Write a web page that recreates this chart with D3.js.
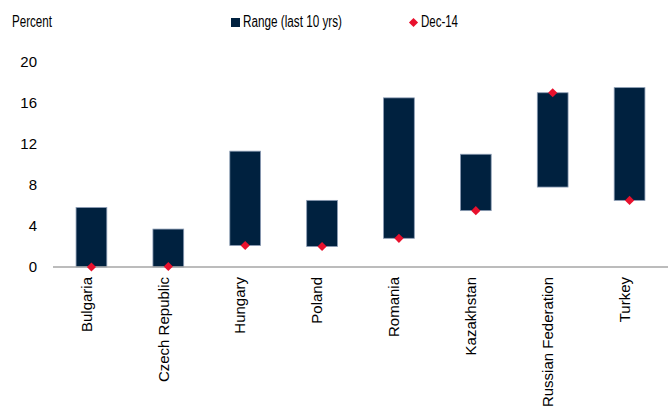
<!DOCTYPE html>
<html><head><meta charset="utf-8">
<script src="https://cdn.jsdelivr.net/npm/d3@7"></script>
<style>body{margin:0;background:#fff}svg{display:block}text{font-family:"Liberation Sans",Arial,sans-serif;fill:#000}</style>
</head><body><svg id="c" width="670" height="406"></svg>
<script>
const categories = ["Bulgaria","Czech Republic","Hungary","Poland","Romania","Kazakhstan","Russian Federation","Turkey"];
const rangeLow  = [0, 0, 2.1, 2.0, 2.8, 5.5, 7.8, 6.5];
const rangeHigh = [5.8, 3.7, 11.3, 6.5, 16.5, 11.0, 17.0, 17.5];
const dec14     = [0, 0.05, 2.1, 2.0, 2.8, 5.5, 17.0, 6.5];
const yTicks = [0, 4, 8, 12, 16, 20];

const svg = d3.select("#c");
const navy = "#00213F", red = "#E8112D";
const x = d3.scaleBand().domain(categories).range([53, 668]).paddingInner(0.6).paddingOuter(0.3);
const y = d3.scaleLinear().domain([0, 20]).range([267, 62]);

// y tick labels
svg.append("g").selectAll("text").data(yTicks).join("text")
  .attr("x", 37).attr("y", d => y(d)).attr("dy", "0.36em")
  .attr("text-anchor", "end").style("font-size", "15px").text(d => d);

// bars
svg.append("g").selectAll("rect").data(categories).join("rect")
  .attr("x", d => x(d)).attr("width", x.bandwidth())
  .attr("y", (d, i) => y(rangeHigh[i]))
  .attr("height", (d, i) => y(rangeLow[i]) - y(rangeHigh[i]))
  .attr("fill", navy).attr("stroke", "#8a9bb3").attr("stroke-width", 0.8);

// axis line
svg.append("line").attr("x1", 53).attr("x2", 668).attr("y1", y(0)).attr("y2", y(0))
  .attr("stroke", "#a6a6a6").attr("stroke-width", 1.5);

// diamonds
const diamond = d3.symbol().type(d3.symbolSquare).size(42);
svg.append("g").selectAll("path").data(categories).join("path")
  .attr("d", diamond)
  .attr("transform", (d, i) => `translate(${x(d) + x.bandwidth() / 2},${y(dec14[i])}) rotate(45)`)
  .attr("fill", red);

// category labels
svg.append("g").selectAll("text").data(categories).join("text")
  .attr("transform", d => `translate(${x(d) + x.bandwidth() / 2 - 5},277) rotate(-90)`)
  .attr("text-anchor", "end").attr("dy", "0.35em")
  .style("font-size", "15px").text(d => d);

// top texts & legend
svg.append("text").attr("x", 12).attr("y", 27).style("font-size", "16px")
  .attr("textLength", 40).attr("lengthAdjust", "spacingAndGlyphs").text("Percent");
svg.append("rect").attr("x", 231).attr("y", 18).attr("width", 9).attr("height", 9).attr("fill", navy);
svg.append("text").attr("x", 243).attr("y", 27).style("font-size", "16px")
  .attr("textLength", 99).attr("lengthAdjust", "spacingAndGlyphs").text("Range (last 10 yrs)");
svg.append("path").attr("d", diamond).attr("transform", "translate(413.5,22.5) rotate(45)").attr("fill", red);
svg.append("text").attr("x", 421).attr("y", 27).style("font-size", "16px")
  .attr("textLength", 37).attr("lengthAdjust", "spacingAndGlyphs").text("Dec-14");
</script></body></html>
